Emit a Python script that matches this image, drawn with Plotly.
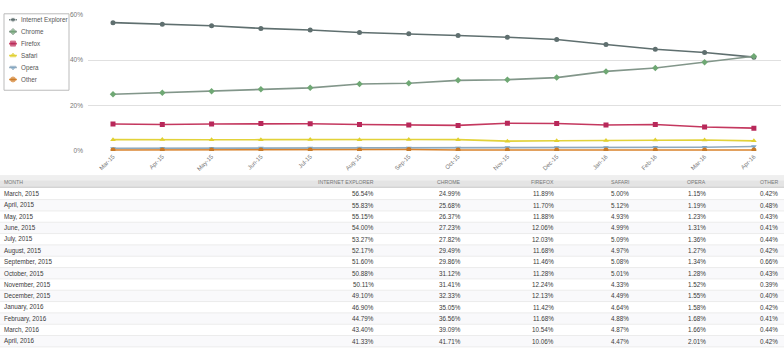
import plotly.graph_objects as go

months = ["March, 2015", "April, 2015", "May, 2015", "June, 2015", "July, 2015",
          "August, 2015", "September, 2015", "October, 2015", "November, 2015",
          "December, 2015", "January, 2016", "February, 2016", "March, 2016", "April, 2016"]
tick_labels = ["Mar-15", "Apr-15", "May-15", "Jun-15", "Jul-15", "Aug-15", "Sep-15",
               "Oct-15", "Nov-15", "Dec-15", "Jan-16", "Feb-16", "Mar-16", "Apr-16"]

ie = [56.54, 55.83, 55.15, 54.00, 53.27, 52.17, 51.60, 50.88, 50.11, 49.10, 46.90, 44.79, 43.40, 41.33]
chrome = [24.99, 25.68, 26.37, 27.23, 27.82, 29.49, 29.86, 31.12, 31.41, 32.33, 35.05, 36.56, 39.09, 41.71]
firefox = [11.89, 11.70, 11.88, 12.06, 12.03, 11.68, 11.46, 11.28, 12.24, 12.13, 11.42, 11.68, 10.54, 10.06]
safari = [5.00, 5.12, 4.93, 4.99, 5.09, 4.97, 5.08, 5.01, 4.33, 4.49, 4.64, 4.88, 4.87, 4.47]
opera = [1.15, 1.19, 1.23, 1.31, 1.36, 1.27, 1.34, 1.28, 1.52, 1.55, 1.58, 1.68, 1.66, 2.01]
other = [0.42, 0.48, 0.43, 0.41, 0.44, 0.42, 0.66, 0.43, 0.39, 0.40, 0.42, 0.41, 0.44, 0.42]

series_names = ["Internet Explorer", "Chrome", "Firefox", "Safari", "Opera", "Other"]
series_values = [ie, chrome, firefox, safari, opera, other]
header_labels = ["MONTH", "INTERNET EXPLORER", "CHROME", "FIREFOX", "SAFARI", "OPERA", "OTHER"]
y_ticks = [0, 20, 40, 60]

colors = ["#5f6f6f", "#82968a", "#c4385f", "#e2d23a", "#8fa9bd", "#d9822b"]
marker_colors = ["#5f6f6f", "#6fa874", "#b8285a", "#e0d030", "#7aa6c8", "#c87a28"]
symbols = ["circle", "diamond", "square", "triangle-up", "triangle-down", "circle"]

W, H = 784, 350
FONT = "Liberation Sans, Arial, sans-serif"

def py(px):
    return (H - px) / H

fig = go.Figure()
xs = list(range(len(tick_labels)))

# main lines
for name, vals, c, mc, s in zip(series_names, series_values, colors, marker_colors, symbols):
    fig.add_trace(go.Scatter(
        x=xs, y=vals, name=name, mode="lines+markers",
        line=dict(color=c, width=1.6),
        marker=dict(color=mc, size=5, symbol=s),
        xaxis="x", yaxis="y", showlegend=False, hoverinfo="skip"))

# legend symbols (drawn on a small helper axis)
for i, (name, c, mc, s) in enumerate(zip(series_names, colors, marker_colors, symbols)):
    fig.add_trace(go.Scatter(
        x=[0, 1, 2], y=[i, i, i], mode="lines+markers",
        line=dict(color=c, width=1.6),
        marker=dict(color=mc, size=[0, 5, 0], symbol=s),
        xaxis="x3", yaxis="y3", showlegend=False, hoverinfo="skip"))
    fig.add_annotation(x=18.5 / W, y=i, xref="paper", yref="y3", text=name,
                       xanchor="left", yanchor="middle", showarrow=False,
                       font=dict(family=FONT, size=6.3, color="#555555"))

# ---- table (drawn with shapes + text annotations) ----
shapes = []
header_top, header_bot = 175, 187
row_c0, row_h = 193.8, 11.56
col_right = [None, 376, 463, 556, 631, 708, 780]
cell_font = dict(family=FONT, size=6.3, color="#3a3a3a")
head_font = dict(family=FONT, size=5.2, color="#777777")

shapes.append(dict(type="rect", xref="paper", yref="paper", x0=0, x1=1,
                   y0=py(header_bot), y1=py(header_top), fillcolor="#e4e4e4",
                   line=dict(width=0), layer="below"))
shapes.append(dict(type="rect", xref="paper", yref="paper", x0=0, x1=1,
                   y0=py(header_top + 5), y1=py(header_top), fillcolor="#efefef",
                   line=dict(width=0), layer="below"))
shapes.append(dict(type="line", xref="paper", yref="paper", x0=0, x1=1,
                   y0=py(header_bot), y1=py(header_bot), line=dict(color="#c8c8c8", width=1)))

for j, lab in enumerate(header_labels):
    if j == 0:
        fig.add_annotation(x=2 / W, y=py((header_top + header_bot) / 2 + 0.5), xref="paper",
                           yref="paper", text=lab, xanchor="left", yanchor="middle",
                           showarrow=False, font=head_font)
    else:
        fig.add_annotation(x=col_right[j] / W, y=py((header_top + header_bot) / 2 + 0.5),
                           xref="paper", yref="paper", text=lab, xanchor="right",
                           yanchor="middle", showarrow=False, font=head_font)

for i, m in enumerate(months):
    yc = row_c0 + row_h * i
    if i % 2 == 1:
        shapes.append(dict(type="rect", xref="paper", yref="paper", x0=0, x1=1,
                           y0=py(yc + row_h / 2), y1=py(yc - row_h / 2),
                           fillcolor="#f9f9fb", line=dict(width=0), layer="below"))
    shapes.append(dict(type="line", xref="paper", yref="paper", x0=0, x1=1,
                       y0=py(yc + row_h / 2), y1=py(yc + row_h / 2),
                       line=dict(color="#ececec", width=1)))
    fig.add_annotation(x=2 / W, y=py(yc), xref="paper", yref="paper", text=m,
                       xanchor="left", yanchor="middle", showarrow=False, font=cell_font)
    for j, vals in enumerate(series_values, start=1):
        fig.add_annotation(x=col_right[j] / W, y=py(yc), xref="paper", yref="paper",
                           text=f"{vals[i]:.2f}%", xanchor="right", yanchor="middle",
                           showarrow=False, font=cell_font)

# legend box
shapes.append(dict(type="rect", xref="paper", yref="paper", x0=4 / W, x1=69 / W,
                   y0=py(88), y1=py(10), line=dict(color="#bbbbbb", width=1),
                   fillcolor="rgba(0,0,0,0)", layer="below"))

top_px, bot_px = 11, 150
fig.update_layout(
    width=W, height=H, margin=dict(l=0, r=0, t=0, b=0),
    paper_bgcolor="white", plot_bgcolor="rgba(0,0,0,0)",
    xaxis=dict(domain=[88 / W, 781 / W], range=[-0.507, 13.55],
               tickvals=xs, ticktext=tick_labels, tickangle=-45,
               tickfont=dict(family=FONT, size=6, color="#777"),
               showgrid=False, zeroline=False, showline=False, ticks="",
               anchor="y", fixedrange=True),
    yaxis=dict(domain=[py(bot_px), py(top_px)], range=[0, 60],
               tickvals=y_ticks, ticktext=[f"{v}%" for v in y_ticks],
               tickfont=dict(family=FONT, size=6.5, color="#777"),
               ticklabelstandoff=4,
               gridcolor="#e0e0e0", gridwidth=1, zeroline=False, showline=False,
               ticks="", anchor="x", fixedrange=True),
    xaxis3=dict(domain=[8 / W, 18 / W], range=[-0.3, 2.3], visible=False,
                fixedrange=True, anchor="y3"),
    yaxis3=dict(domain=[py(83.1), py(9.9)], range=[5.5, -0.5],
                visible=False, fixedrange=True, anchor="x3"),
    shapes=shapes,
)

fig.write_html("out.html")
